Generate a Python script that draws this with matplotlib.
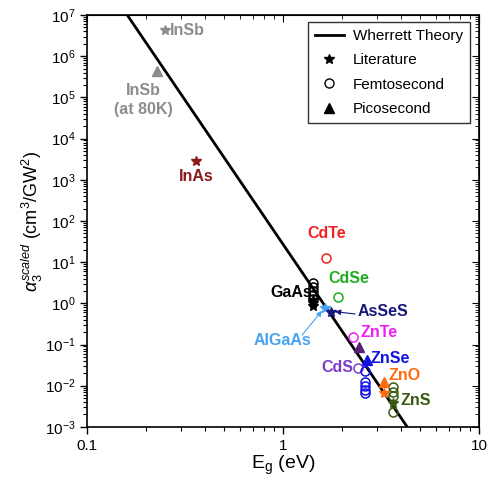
import matplotlib
matplotlib.use("Agg")
import matplotlib.pyplot as plt
import numpy as np
from matplotlib.ticker import LogLocator, NullFormatter

plt.rcParams['font.family'] = ['Liberation Sans', 'DejaVu Sans']
plt.rcParams['mathtext.fontset'] = 'custom'
plt.rcParams['mathtext.rm'] = 'Liberation Sans'
plt.rcParams['mathtext.it'] = 'Liberation Sans:italic'

# Theory: alpha3 = C * Eg^-7
theory_C = 27.0
theory_power = -7.0
theory_E = [0.1, 10.0]

# Literature (stars)
lit_mat = ['InSb', 'InAs', 'GaAs', 'GaAs', 'GaAs', 'AlGaAs', 'AsSeS', 'ZnO', 'ZnS']
lit_E = [0.25, 0.36, 1.42, 1.42, 1.42, 1.64, 1.76, 3.27, 3.64]
lit_a = [4.3e6, 2.9e3, 1.2, 1.0, 0.87, 0.78, 0.62, 0.0068, 0.0038]

# Femtosecond (open circles)
fs_mat = ['CdTe', 'CdSe', 'GaAs', 'GaAs', 'GaAs', 'GaAs', 'GaAs', 'ZnTe', 'CdS',
          'ZnSe', 'ZnSe', 'ZnSe', 'ZnSe', 'ZnSe', 'ZnS', 'ZnS', 'ZnS', 'ZnS']
fs_E = [1.66, 1.91, 1.42, 1.42, 1.42, 1.42, 1.42, 2.28, 2.41,
        2.62, 2.62, 2.62, 2.62, 2.62, 3.64, 3.64, 3.64, 3.64]
fs_a = [12.6, 1.43, 3.2, 2.5, 2.0, 1.6, 1.28, 0.15, 0.027,
        0.023, 0.0123, 0.010, 0.0079, 0.0068, 0.0093, 0.0071, 0.0056, 0.0023]

# Picosecond (filled triangles)
ps_mat = ['InSb80K', 'ZnTe_ps', 'ZnSe', 'ZnO']
ps_E = [0.227, 2.44, 2.68, 3.27]
ps_a = [4.4e5, 0.087, 0.043, 0.0123]

colors = {
    'InSb': '#8c8c8c', 'InSb80K': '#8c8c8c', 'InAs': '#8b1a1a', 'CdTe': '#f22020',
    'CdSe': '#1fae1f', 'GaAs': '#000000', 'AlGaAs': '#45a3f0', 'AsSeS': '#17177e',
    'ZnTe': '#f01ef0', 'ZnTe_ps': '#5a1f7a', 'ZnSe': '#1010e6', 'CdS': '#7d3cc8',
    'ZnO': '#ff6a10', 'ZnS': '#3a5a12',
}

fig = plt.figure(figsize=(4.98, 4.84), dpi=100)
ax = fig.add_axes([0.175, 0.118, 0.787, 0.851])

E = np.logspace(np.log10(theory_E[0]), np.log10(theory_E[1]), 200)
ax.plot(E, theory_C * E ** theory_power, color='black', lw=2, zorder=2, label='Wherrett Theory')

for m, x, y in zip(fs_mat, fs_E, fs_a):
    ax.plot(x, y, 'o', mfc='none', mec=colors[m], ms=6.5, mew=1.1, zorder=3)
for m, x, y in zip(ps_mat, ps_E, ps_a):
    ax.plot(x, y, '^', color=colors[m], ms=7, zorder=4)
for m, x, y in zip(lit_mat, lit_E, lit_a):
    ax.plot(x, y, '*', color=colors[m], ms=7.5, zorder=5)

# legend proxies
ax.plot([], [], '*', color='black', ms=7.5, label='Literature')
ax.plot([], [], 'o', mfc='none', mec='black', ms=6.5, label='Femtosecond')
ax.plot([], [], '^', color='black', ms=7, label='Picosecond')

ax.set_xscale('log')
ax.set_yscale('log')
ax.set_xlim(0.1, 10)
ax.set_ylim(1e-3, 1e7)

fs = 11.5
kw = dict(fontsize=fs, fontweight='bold')
ax.text(0.265, 4.3e6, 'InSb', color=colors['InSb'], ha='left', va='center', **kw)
ax.text(0.193, 8.7e4, 'InSb\n(at 80K)', color=colors['InSb'], ha='center', va='center',
        linespacing=1.35, **kw)
ax.text(0.36, 1170, 'InAs', color=colors['InAs'], ha='center', va='center', **kw)
ax.text(1.66, 50, 'CdTe', color=colors['CdTe'], ha='center', va='center', **kw)
ax.text(1.70, 3.9, 'CdSe', color=colors['CdSe'], ha='left', va='center', **kw)
ax.text(1.40, 1.8, 'GaAs', color=colors['GaAs'], ha='right', va='center', **kw)
ax.text(0.99, 0.123, 'AlGaAs', color=colors['AlGaAs'], ha='center', va='center', **kw)
ax.text(2.39, 0.62, 'AsSeS', color=colors['AsSeS'], ha='left', va='center', **kw)
ax.text(2.47, 0.20, 'ZnTe', color=colors['ZnTe'], ha='left', va='center', **kw)
ax.text(2.8, 0.046, 'ZnSe', color=colors['ZnSe'], ha='left', va='center', **kw)
ax.text(2.28, 0.027, 'CdS', color=colors['CdS'], ha='right', va='center', **kw)
ax.text(3.45, 0.018, 'ZnO', color=colors['ZnO'], ha='left', va='center', **kw)
ax.text(3.95, 0.0043, 'ZnS', color=colors['ZnS'], ha='left', va='center', **kw)

ax.annotate('', xy=(1.58, 0.66), xytext=(1.25, 0.17),
            arrowprops=dict(arrowstyle='-|>', color=colors['AlGaAs'], lw=0.8,
                            mutation_scale=8, shrinkA=0, shrinkB=0))
ax.annotate('', xy=(1.84, 0.63), xytext=(2.33, 0.55),
            arrowprops=dict(arrowstyle='-|>', color=colors['AsSeS'], lw=0.8,
                            mutation_scale=8, shrinkA=0, shrinkB=0))

ax.set_xlabel('E$_\\mathrm{g}$ (eV)', fontsize=14, labelpad=1)
ax.set_ylabel(r'$\alpha_3^{\mathit{scaled}}$ (cm$^3$/GW$^2$)', fontsize=13, labelpad=0)

ax.set_xticks([0.1, 1, 10])
ax.set_xticklabels(['0.1', '1', '10'])
ax.xaxis.set_minor_locator(LogLocator(base=10, subs=np.arange(2, 10), numticks=20))
ax.xaxis.set_minor_formatter(NullFormatter())
yt = [10.0 ** k for k in range(-3, 8)]
ax.set_yticks(yt)
ax.set_yticklabels(['10$^{%d}$' % k for k in range(-3, 8)])
ax.yaxis.set_minor_locator(LogLocator(base=10, subs=np.arange(2, 10), numticks=30))
ax.yaxis.set_minor_formatter(NullFormatter())

ax.tick_params(axis='both', which='major', labelsize=11, length=5, width=1, direction='out')
ax.tick_params(axis='both', which='minor', length=3, width=0.8, direction='out')

# top/right ticks inward
sec_x = ax.secondary_xaxis('top')
sec_x.set_xticks([0.1, 1, 10])
sec_x.xaxis.set_minor_locator(LogLocator(base=10, subs=np.arange(2, 10), numticks=20))
sec_x.xaxis.set_minor_formatter(NullFormatter())
sec_x.tick_params(which='both', direction='in', labeltop=False)
sec_x.tick_params(which='major', length=5)
sec_x.tick_params(which='minor', length=3)
sec_x.set_xticklabels([])
sec_y = ax.secondary_yaxis('right')
sec_y.set_yticks(yt)
sec_y.yaxis.set_minor_locator(LogLocator(base=10, subs=np.arange(2, 10), numticks=30))
sec_y.yaxis.set_minor_formatter(NullFormatter())
sec_y.tick_params(which='both', direction='in', labelright=False)
sec_y.tick_params(which='major', length=5)
sec_y.tick_params(which='minor', length=3)
sec_y.set_yticklabels([])
for s in ax.spines.values():
    s.set_linewidth(1.2)

leg = ax.legend(loc='upper right', fontsize=11, frameon=True, fancybox=False,
                edgecolor='black', handlelength=1.9, handletextpad=0.6, borderpad=0.45,
                labelspacing=0.68, borderaxespad=0, bbox_to_anchor=(0.977, 0.983))
leg.get_frame().set_linewidth(1.0)

fig.savefig('out.png', dpi=100)
